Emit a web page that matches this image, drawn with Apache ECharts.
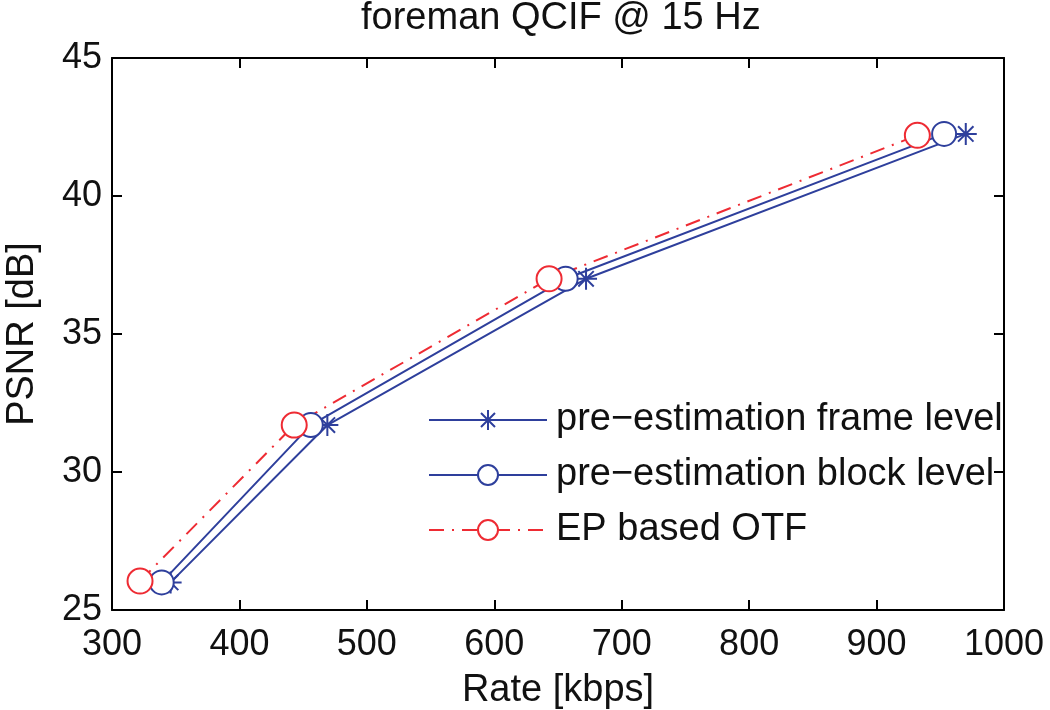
<!DOCTYPE html>
<html>
<head>
<meta charset="utf-8">
<script src="https://cdn.jsdelivr.net/npm/echarts@6/dist/echarts.min.js"></script>
<style>html,body{margin:0;padding:0;background:#fff}#c{width:1050px;height:710px}</style>
</head>
<body>
<div id="c"></div>
<script>
const titleText = 'foreman QCIF @ 15 Hz';
const xName = 'Rate [kbps]';
const yName = 'PSNR [dB]';
const seriesNames = ['pre\u2212estimation frame level', 'pre\u2212estimation block level', 'EP based OTF'];
const frameRate = [346, 469, 672, 970];
const framePsnr = [26.0, 31.7, 37.0, 42.25];
const blockRate = [339, 456, 656, 953];
const blockPsnr = [26.0, 31.7, 37.0, 42.25];
const otfRate = [322, 443, 643, 932];
const otfPsnr = [26.05, 31.7, 37.0, 42.2];

const zip = (a, b) => a.map((v, i) => [v, b[i]]);
const BLUE = '#2e3f9c';
const RED = '#ee2b33';
const FONT = 'Liberation Sans, Arial, sans-serif';
const asterisk = 'path://M0,10L20,10M10,0L10,20M3,3L17,17M3,17L17,3';

const chart = echarts.init(document.getElementById('c'), null, {renderer: 'canvas'});
const axisCommon = {
  axisLine: {show: true, onZero: false, lineStyle: {color: '#000', width: 2}},
  axisTick: {show: true, inside: true, length: 10, lineStyle: {color: '#000', width: 2}},
  splitLine: {show: false}
};
chart.setOption({
  animation: false,
  backgroundColor: '#fff',
  title: {
    text: titleText, left: 356, top: -5,
    textStyle: {fontFamily: FONT, fontSize: 38, fontWeight: 'normal', color: '#111'}
  },
  grid: {left: 112, right: 46, top: 58, bottom: 100, containLabel: false, outerBoundsMode: 'none'},
  xAxis: [
    Object.assign({
      type: 'value', min: 300, max: 1000, interval: 100, position: 'bottom',
      name: xName, nameLocation: 'middle', nameGap: 62,
      nameTextStyle: {fontFamily: FONT, fontSize: 38, color: '#111'},
      axisLabel: {fontFamily: FONT, fontSize: 36, color: '#111', margin: 17, formatter: v => String(v)}
    }, axisCommon),
    Object.assign({
      type: 'value', min: 300, max: 1000, interval: 100, position: 'top',
      axisLabel: {show: false}
    }, axisCommon)
  ],
  yAxis: [
    Object.assign({
      type: 'value', min: 25, max: 45, interval: 5, position: 'left',
      name: yName, nameLocation: 'middle', nameGap: 70, nameRotate: 90,
      nameTextStyle: {fontFamily: FONT, fontSize: 38, color: '#111'},
      axisLabel: {fontFamily: FONT, fontSize: 36, color: '#111', margin: 10, formatter: v => String(v)}
    }, axisCommon),
    Object.assign({
      type: 'value', min: 25, max: 45, interval: 5, position: 'right',
      axisLabel: {show: false}
    }, axisCommon)
  ],
  legend: {
    orient: 'vertical', left: 423, top: 395,
    itemWidth: 118, itemHeight: 25, itemGap: 15,
    data: seriesNames,
    textStyle: {fontFamily: FONT, fontSize: 38, lineHeight: 40, color: '#111',
      padding: [0, 0, 0, 4], width: 452, overflow: 'truncate', ellipsis: ''}
  },
  series: [
    {
      name: seriesNames[0], type: 'line', data: zip(frameRate, framePsnr),
      symbol: asterisk, symbolSize: 22,
      itemStyle: {color: BLUE, borderColor: BLUE, borderWidth: 2},
      lineStyle: {color: BLUE, width: 2}
    },
    {
      name: seriesNames[1], type: 'line', data: zip(blockRate, blockPsnr),
      symbol: 'emptyCircle', symbolSize: 24,
      itemStyle: {color: BLUE, borderColor: BLUE, borderWidth: 2},
      lineStyle: {color: BLUE, width: 2}
    },
    {
      name: seriesNames[2], type: 'line', data: zip(otfRate, otfPsnr),
      symbol: 'emptyCircle', symbolSize: 25,
      itemStyle: {color: RED, borderColor: RED, borderWidth: 2},
      lineStyle: {color: RED, width: 2, type: [15, 8, 2, 8]}
    }
  ]
});
</script>
</body>
</html>
